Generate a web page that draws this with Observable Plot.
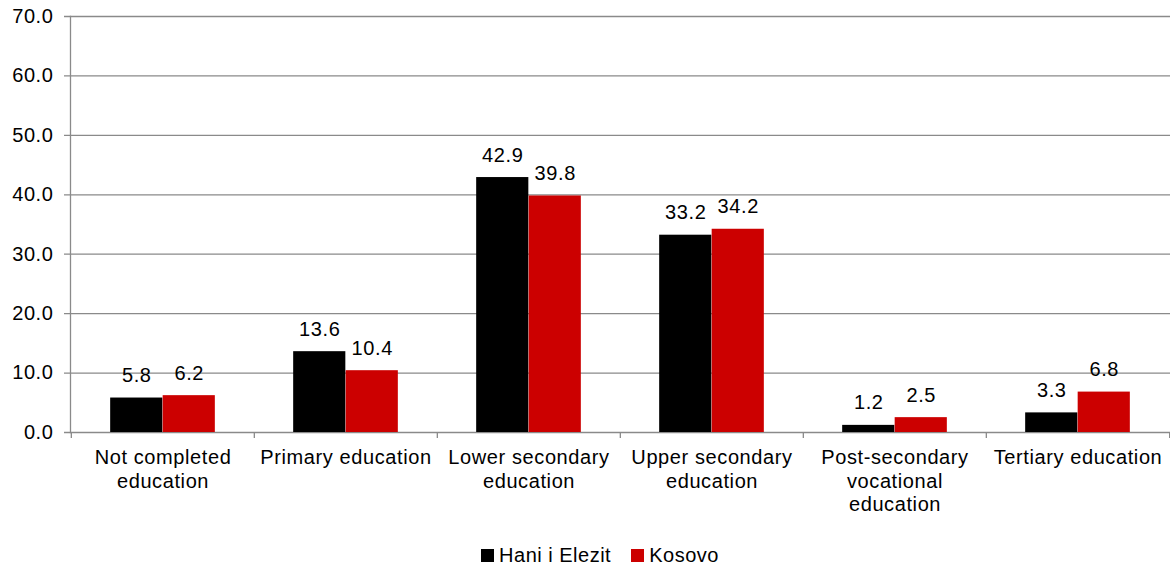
<!DOCTYPE html>
<html>
<head>
<meta charset="utf-8">
<script src="https://cdn.jsdelivr.net/npm/d3@7"></script>
<script src="https://cdn.jsdelivr.net/npm/@observablehq/plot@0.6"></script>
<style>
  body { margin: 0; background: #fff; font-family: "Liberation Sans", Arial, sans-serif; }
  #legend { position: relative; height: 50px; width: 1140px; padding-left: 30px; display: flex; justify-content: center; align-items: center; font-size: 20px; letter-spacing: 0.5px; color: #000; }
  .item { display: flex; align-items: center; margin: 0 10px; }
  .sw { width: 13px; height: 13px; margin-right: 5px; display: inline-block; }
  svg text { letter-spacing: 0.6px; }
</style>
</head>
<body>
<div id="chart"></div>
<div id="legend"></div>
<script>
const categories = [
  "Not completed\neducation",
  "Primary education",
  "Lower secondary\neducation",
  "Upper secondary\neducation",
  "Post-secondary\nvocational\neducation",
  "Tertiary education"
];
const series = ["Hani i Elezit", "Kosovo"];
const haniValues = [5.8, 13.6, 42.9, 33.2, 1.2, 3.3];
const kosovoValues = [6.2, 10.4, 39.8, 34.2, 2.5, 6.8];
const yTicks = [0, 10, 20, 30, 40, 50, 60, 70];
const colors = ["#000000", "#CC0000"];

const data = [];
categories.forEach((c, i) => {
  data.push({category: c, series: series[0], value: haniValues[i]});
  data.push({category: c, series: series[1], value: kosovoValues[i]});
});

const W = 1170, marginLeft = 70, marginRight = 0;
const band = (W - marginLeft - marginRight) / categories.length;
const barW = 52.5;
const inset = (band - barW) / 2;
const off = barW / 2;
const grid = "#8a8a8a";
const FS = 20;

const hani = data.filter(d => d.series === series[0]);
const kos = data.filter(d => d.series === series[1]);

const plot = Plot.plot({
  width: W,
  height: 530,
  marginLeft, marginRight,
  marginTop: 16,
  marginBottom: 98,
  style: {fontFamily: "'Liberation Sans', Arial, sans-serif", fontSize: FS + "px", color: "#000", background: "#fff"},
  x: {domain: categories, paddingInner: 0, paddingOuter: 0, label: null},
  y: {domain: [0, 70], label: null},
  marks: [
    Plot.ruleY(yTicks, {stroke: grid, strokeWidth: 1.3, insetLeft: -6}),
    Plot.frame({anchor: "left", stroke: grid, strokeWidth: 1.3}),
    Plot.axisY({ticks: yTicks, tickFormat: d => d.toFixed(1), tickSize: 0, tickPadding: 17, fontSize: FS, label: null}),
    Plot.ruleX(categories, {x: d => d, y1: 0, y2: 0, insetBottom: -6, dx: -band / 2, stroke: grid, strokeWidth: 1.3}),
    Plot.ruleX([categories[categories.length - 1]], {x: d => d, y1: 0, y2: 0, insetBottom: -6, dx: band / 2, stroke: grid, strokeWidth: 1.3}),
    Plot.barY(hani, {x: "category", y: "value", fill: colors[0], insetLeft: inset, insetRight: inset, dx: -off}),
    Plot.barY(kos, {x: "category", y: "value", fill: colors[1], insetLeft: inset, insetRight: inset, dx: off}),
    Plot.text(hani, {x: "category", y: "value", text: d => d.value.toFixed(1), dx: -off, dy: -16, lineAnchor: "bottom", fontSize: FS, fill: "#000"}),
    Plot.text(kos, {x: "category", y: "value", text: d => d.value.toFixed(1), dx: off, dy: -16, lineAnchor: "bottom", fontSize: FS, fill: "#000"}),
    Plot.axisX({tickSize: 0, tickPadding: 15, fontSize: FS, lineHeight: 1.18, label: null})
  ]
});
document.getElementById("chart").appendChild(plot);

const legend = document.getElementById("legend");
series.forEach((s, i) => {
  const it = document.createElement("div");
  it.className = "item";
  const sw = document.createElement("span");
  sw.className = "sw";
  sw.style.background = colors[i];
  it.appendChild(sw);
  it.appendChild(document.createTextNode(s));
  legend.appendChild(it);
});
</script>
</body>
</html>
